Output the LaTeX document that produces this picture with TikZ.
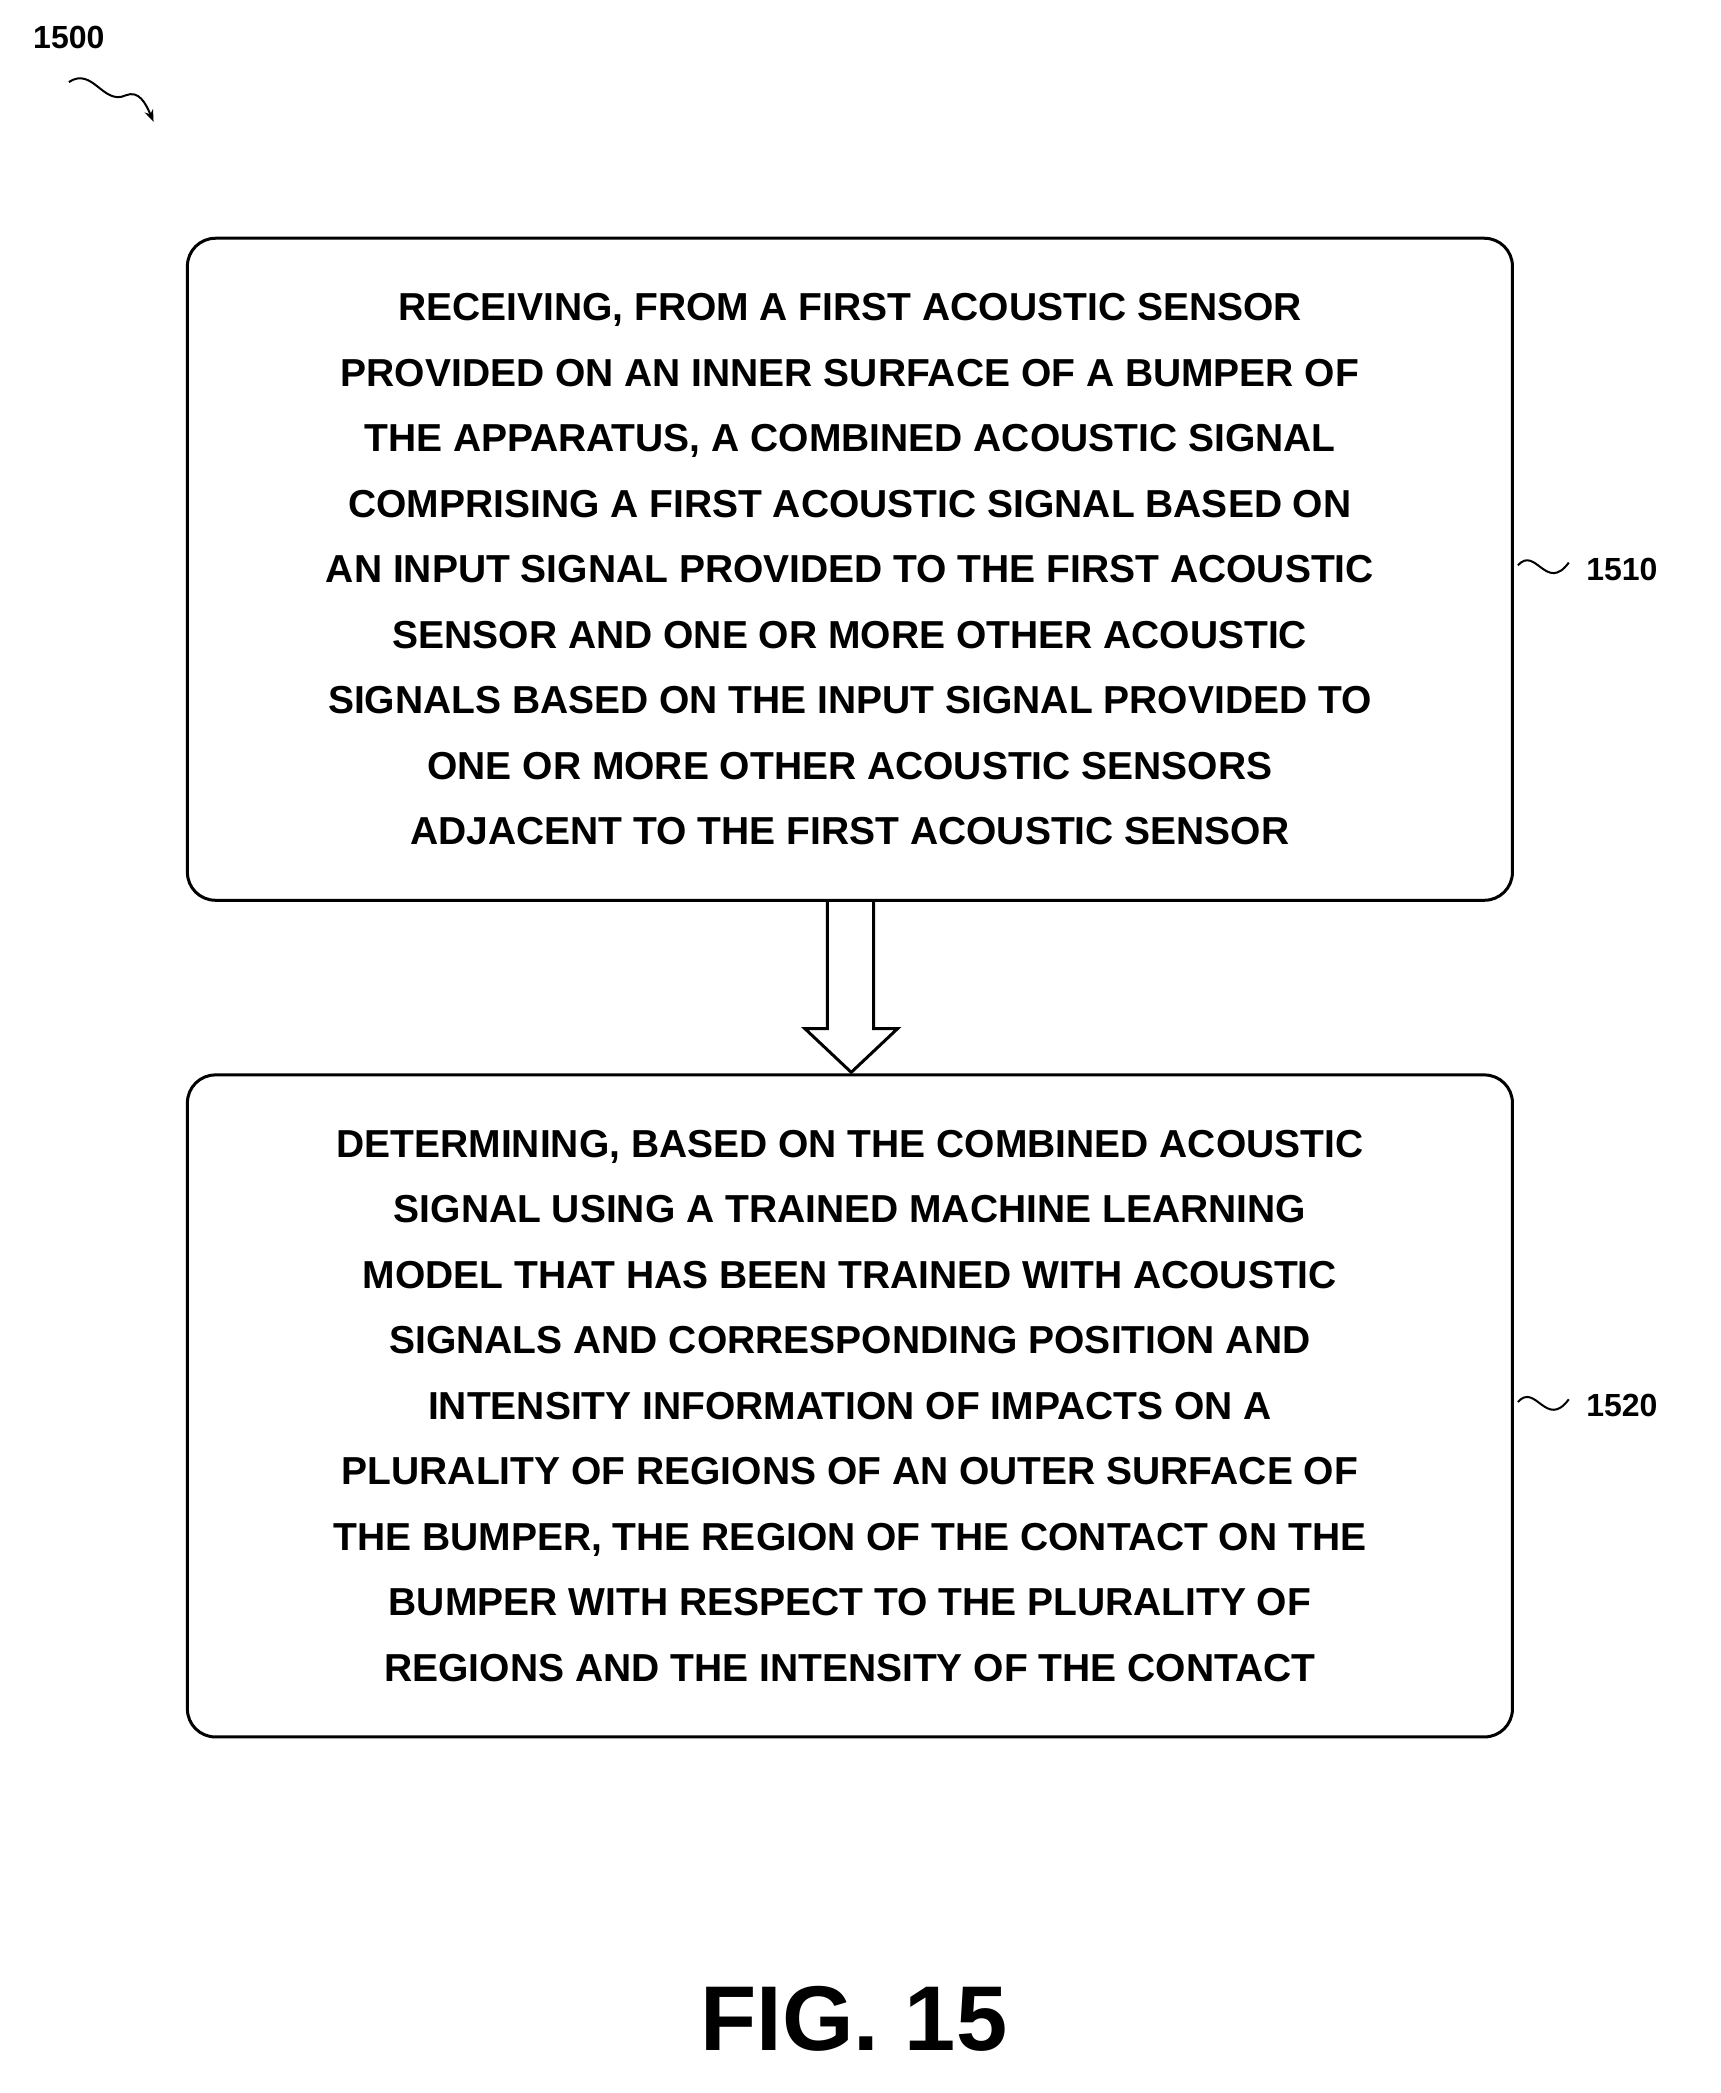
\documentclass[tikz,border=0pt]{standalone}
\usepackage{fontspec}
\setmainfont{Liberation Sans}
\usetikzlibrary{positioning,shapes.arrows,arrows.meta}
\tikzset{
  flowstep/.style={draw,line width=3pt,rounded corners=28pt,minimum width=1325pt,minimum height=662pt,
    align=center,font=\fontsize{39}{65.5}\selectfont\bfseries,inner sep=0pt},
  ref/.style={font=\fontsize{32}{38}\selectfont\bfseries,anchor=west},
}
\begin{document}
\begin{tikzpicture}[x=1.3238pt,y=-1.3238pt,line width=2pt]
\useasboundingbox (0,0) rectangle (1300,1581);
  % Step 1510
  \node[flowstep] (recv) at (642,430) {RECEIVING, FROM A FIRST ACOUSTIC SENSOR\\PROVIDED ON AN INNER SURFACE OF A BUMPER OF\\THE APPARATUS, A COMBINED ACOUSTIC SIGNAL\\COMPRISING A FIRST ACOUSTIC SIGNAL BASED ON\\AN INPUT SIGNAL PROVIDED TO THE FIRST ACOUSTIC\\SENSOR AND ONE OR MORE OTHER ACOUSTIC\\SIGNALS BASED ON THE INPUT SIGNAL PROVIDED TO\\ONE OR MORE OTHER ACOUSTIC SENSORS\\ADJACENT TO THE FIRST ACOUSTIC SENSOR};
  % Step 1520
  \node[flowstep] (det) at (642,1062) {DETERMINING, BASED ON THE COMBINED ACOUSTIC\\SIGNAL USING A TRAINED MACHINE LEARNING\\MODEL THAT HAS BEEN TRAINED WITH ACOUSTIC\\SIGNALS AND CORRESPONDING POSITION AND\\INTENSITY INFORMATION OF IMPACTS ON A\\PLURALITY OF REGIONS OF AN OUTER SURFACE OF\\THE BUMPER, THE REGION OF THE CONTACT ON THE\\BUMPER WITH RESPECT TO THE PLURALITY OF\\REGIONS AND THE INTENSITY OF THE CONTACT};
  % Block arrow
  \draw[line width=3pt,line join=miter] (625,680) -- (625,777) -- (608,777) -- (643,810) -- (678,777) -- (660,777) -- (660,680);
  % Reference labels
  \node[ref] (r1510) at (1195,430) {1510};
  \draw (recv.east) ++(3,-3) .. controls (1160,412) and (1168,448) .. (1185,425);
  \node[ref] (r1520) at (1195,1062) {1520};
  \draw (det.east) ++(3,-3) .. controls (1160,1044) and (1168,1080) .. (1185,1057);
  \node[ref,anchor=center] (r1500) at (52,28) {1500};
  \coordinate (tip) at (116,92);
  \draw[-{Stealth[length=12pt]}] (52,62) .. controls (70,50) and (78,80) .. (95,72) .. controls (105,68) and (110,78) .. (tip);
  % Figure label
  \node[font=\fontsize{92}{100}\selectfont\bfseries] (fig) at (645,1525) {FIG. 15};
\end{tikzpicture}
\end{document}
